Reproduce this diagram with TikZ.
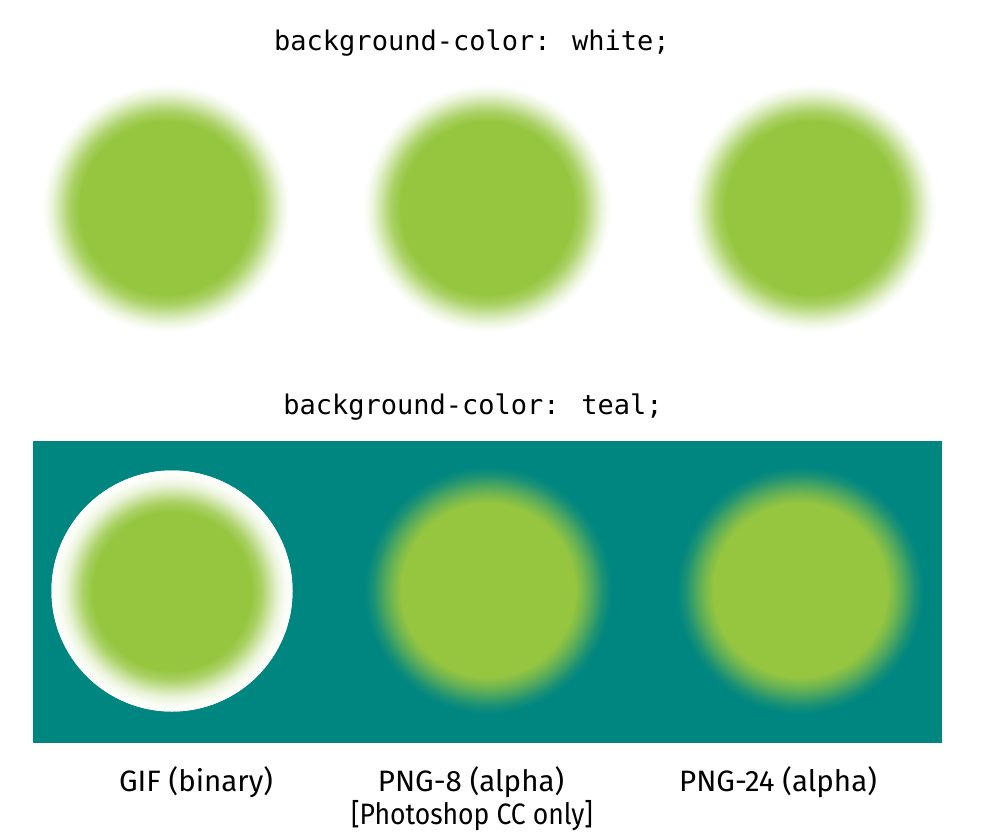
\documentclass[tikz,border=0pt]{standalone}
\usepackage{fontspec}
\setmainfont{Fira Sans}
\newfontfamily\codefont{DejaVu Sans Mono}
\definecolor{leaf}{RGB}{150,198,64}
\definecolor{tealbg}{RGB}{0,134,128}
\colorlet{lw80}{leaf!80!white}
\colorlet{lw45}{leaf!45!white}
\colorlet{lw20}{leaf!20!white}
\colorlet{lw6}{leaf!6!white}
\colorlet{lt80}{leaf!75!tealbg}
\colorlet{lt45}{leaf!45!tealbg}
\colorlet{lt20}{leaf!20!tealbg}
\colorlet{lt6}{leaf!6!tealbg}
\pgfdeclareradialshading{fadewhite}{\pgfpoint{0bp}{0bp}}{color(0bp)=(leaf); color(17.5bp)=(leaf); color(19.5bp)=(lw80); color(21.5bp)=(lw45); color(23bp)=(lw20); color(24.25bp)=(lw6); color(25bp)=(white); color(50bp)=(white)}
\pgfdeclareradialshading{fadegif}{\pgfpoint{0bp}{0bp}}{color(0bp)=(leaf); color(16.5bp)=(leaf); color(18.5bp)=(lw80); color(20.5bp)=(lw45); color(22bp)=(lw20); color(23.5bp)=(lw6); color(25bp)=(white); color(50bp)=(white)}
\pgfdeclareradialshading{fadeteal}{\pgfpoint{0bp}{0bp}}{color(0bp)=(leaf); color(17.5bp)=(leaf); color(19.5bp)=(lt80); color(21.5bp)=(lt45); color(23bp)=(lt20); color(24.25bp)=(lt6); color(25bp)=(tealbg); color(50bp)=(tealbg)}
\tikzset{
  blob/.style={circle, inner sep=0pt, minimum size=#1, draw=none},
  codetxt/.style={font=\codefont\fontsize{27}{31}\selectfont, anchor=base, inner sep=0pt},
  lbl/.style={font=\fontsize{29.5}{34}\selectfont, anchor=base, inner sep=0pt}
}
\begin{document}
\begin{tikzpicture}[x=1pt,y=-1pt]
\useasboundingbox (0,0) rectangle (988,838);
\fill[white] (0,0) rectangle (988,838);
\node[codetxt] (t1) at (472,50) {background-color: white;};
\node[blob=248pt, shading=fadewhite] (w1) at (166,208) {};
\node[blob=248pt, shading=fadewhite] (w2) at (487,208) {};
\node[blob=248pt, shading=fadewhite] (w3) at (812,208) {};
\node[codetxt] (t2) at (473,414) {background-color: teal;};
\fill[tealbg] (33,441) rectangle (942,743);
\node[blob=241pt, fill=white] (gifdisc) at (172,591) {};
\node[blob=241pt, shading=fadegif] (gif) at (172,591) {};
\node[blob=248pt, shading=fadeteal] (p8) at (488,590) {};
\node[blob=248pt, shading=fadeteal] (p24) at (800,590) {};
\node[lbl] (l1) at (196,791) {GIF (binary)};
\node[lbl] (l2) at (471,791) {PNG-8 (alpha)};
\node[lbl] (l2b) at (472,824) {\scalebox{0.9}[1]{[Photoshop CC only]}};
\node[lbl] (l3) at (778,791) {PNG-24 (alpha)};
\end{tikzpicture}
\end{document}
